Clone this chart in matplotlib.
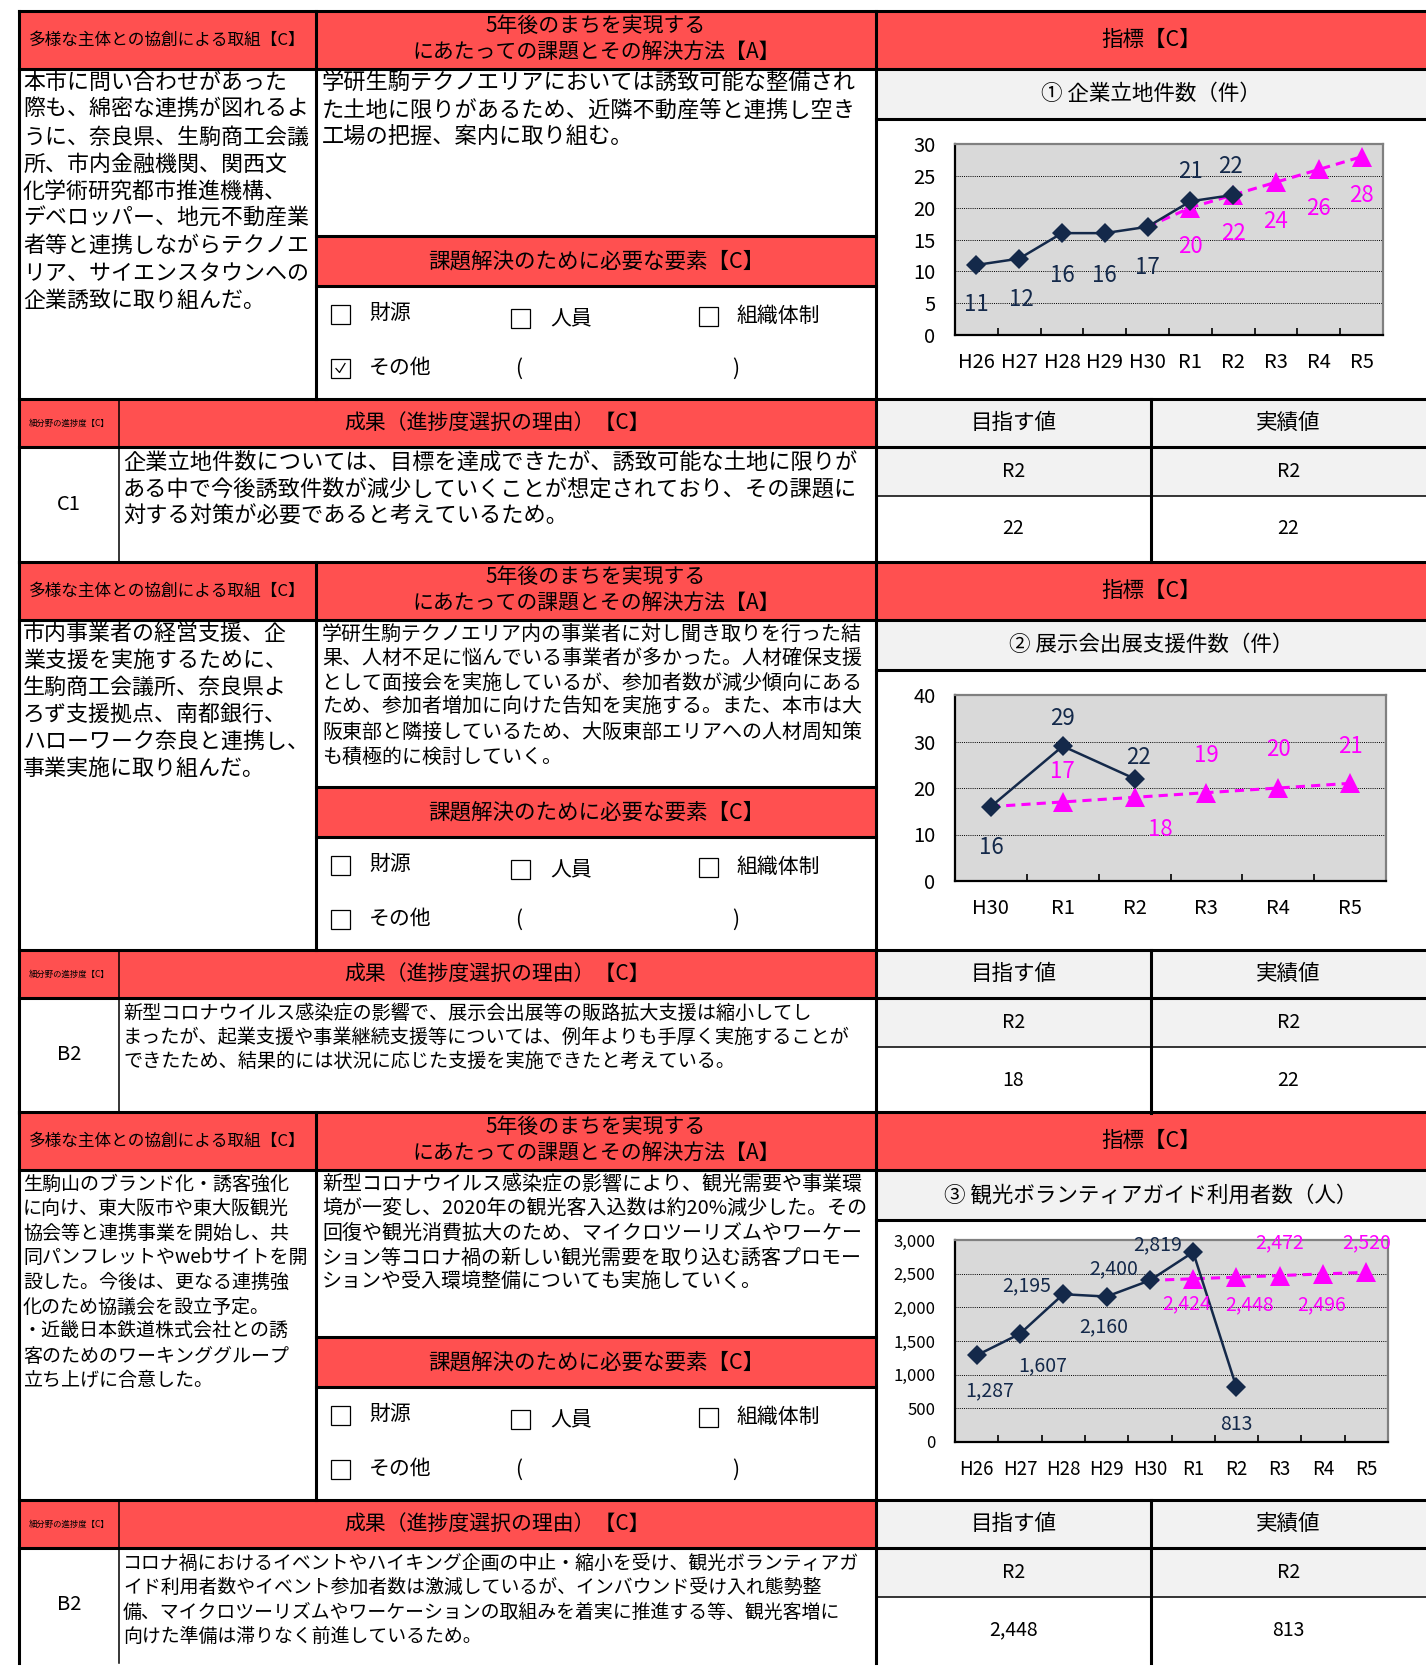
import matplotlib
matplotlib.use('Agg')
import matplotlib.pyplot as plt
from matplotlib.patches import Rectangle
from matplotlib.ticker import FuncFormatter
import numpy as np

plt.rcParams['font.family'] = ['Noto Sans CJK JP', 'DejaVu Sans']

# データ（グラフ）
cats_1 = ['H26', 'H27', 'H28', 'H29', 'H30', 'R1', 'R2', 'R3', 'R4', 'R5']
actual_1 = [11, 12, 16, 16, 17, 21, 22]
target_1 = [17, 20, 22, 24, 26, 28]          # H30〜R5

cats_2 = ['H30', 'R1', 'R2', 'R3', 'R4', 'R5']
actual_2 = [16, 29, 22]
target_2 = [16, 17, 18, 19, 20, 21]          # H30〜R5

cats_3 = ['H26', 'H27', 'H28', 'H29', 'H30', 'R1', 'R2', 'R3', 'R4', 'R5']
actual_3 = [1287, 1607, 2195, 2160, 2400, 2819, 813]
target_3 = [2400, 2424, 2448, 2472, 2496, 2520]  # H30〜R5

chart_titles = ['① 企業立地件数（件）', '② 展示会出展支援件数（件）',
                '③ 観光ボランティアガイド利用者数（人）']

# データ（表）
progress = ['C1', 'B2', 'B2']
goal_year = ['R2', 'R2', 'R2']
goal_vals = ['22', '18', '2,448']
result_year = ['R2', 'R2', 'R2']
result_vals = ['22', '22', '813']
other_checked = [True, False, False]

left_texts = [
    ['本市に問い合わせがあった', '際も、綿密な連携が図れるよ', 'うに、奈良県、生駒商工会議',
     '所、市内金融機関、関西文', '化学術研究都市推進機構、', 'デベロッパー、地元不動産業',
     '者等と連携しながらテクノエ', 'リア、サイエンスタウンへの', '企業誘致に取り組んだ。'],
    ['市内事業者の経営支援、企', '業支援を実施するために、', '生駒商工会議所、奈良県よ',
     'ろず支援拠点、南都銀行、', 'ハローワーク奈良と連携し、', '事業実施に取り組んだ。'],
    ['生駒山のブランド化・誘客強化', 'に向け、東大阪市や東大阪観光', '協会等と連携事業を開始し、共',
     '同パンフレットやwebサイトを開', '設した。今後は、更なる連携強', '化のため協議会を設立予定。',
     '・近畿日本鉄道株式会社との誘', '客のためのワーキンググループ', '立ち上げに合意した。'],
]
mid_texts = [
    ['学研生駒テクノエリアにおいては誘致可能な整備され', 'た土地に限りがあるため、近隣不動産等と連携し空き',
     '工場の把握、案内に取り組む。'],
    ['学研生駒テクノエリア内の事業者に対し聞き取りを行った結', '果、人材不足に悩んでいる事業者が多かった。人材確保支援',
     'として面接会を実施しているが、参加者数が減少傾向にある', 'ため、参加者増加に向けた告知を実施する。また、本市は大',
     '阪東部と隣接しているため、大阪東部エリアへの人材周知策', 'も積極的に検討していく。'],
    ['新型コロナウイルス感染症の影響により、観光需要や事業環', '境が一変し、2020年の観光客入込数は約20%減少した。その',
     '回復や観光消費拡大のため、マイクロツーリズムやワーケー', 'ション等コロナ禍の新しい観光需要を取り込む誘客プロモー',
     'ションや受入環境整備についても実施していく。'],
]
res_texts = [
    ['企業立地件数については、目標を達成できたが、誘致可能な土地に限りが',
     'ある中で今後誘致件数が減少していくことが想定されており、その課題に',
     '対する対策が必要であると考えているため。'],
    ['新型コロナウイルス感染症の影響で、展示会出展等の販路拡大支援は縮小してし',
     'まったが、起業支援や事業継続支援等については、例年よりも手厚く実施することが',
     'できたため、結果的には状況に応じた支援を実施できたと考えている。'],
    ['コロナ禍におけるイベントやハイキング企画の中止・縮小を受け、観光ボランティアガ',
     'イド利用者数やイベント参加者数は激減しているが、インバウンド受け入れ態勢整',
     '備、マイクロツーリズムやワーケーションの取組みを着実に推進する等、観光客増に',
     '向けた準備は滞りなく前進しているため。'],
]

# レイアウト（ピクセル）
W, H = 1426, 1666
RED = '#FF5050'
GRAY = '#F2F2F2'
NAVY = '#14294A'
MAG = '#FF00FF'
XL, XP, XM, XR, XV, XE = 19, 119, 316, 876, 1151, 1426
tops = [11, 562, 1112]
# (左文字サイズ, 左行間, 中文字サイズ, 中行間, 成果文字サイズ, 成果行間)
text_style = [(15.8, 27.2, 16.0, 27.2, 16.0, 27.0),
              (15.8, 27.0, 14.4, 24.6, 13.8, 24.0),
              (13.7, 24.6, 14.4, 24.7, 13.6, 24.5)]

fig = plt.figure(figsize=(W / 100, H / 100), dpi=100)
ax0 = fig.add_axes([0, 0, 1, 1])
ax0.set_xlim(0, W)
ax0.set_ylim(H, 0)
ax0.axis('off')


def fill(x0, y0, x1, y1, color):
    ax0.add_patch(Rectangle((x0, y0), x1 - x0, y1 - y0, facecolor=color, edgecolor='none', zorder=1))


def hline(y, x0, x1, lw=2.2):
    ax0.plot([x0, x1], [y, y], color='black', lw=lw, solid_capstyle='projecting', zorder=3)


def vline(x, y0, y1, lw=2.2):
    ax0.plot([x, x], [y0, y1], color='black', lw=lw, solid_capstyle='projecting', zorder=3)


def checkbox(x, y, checked):
    ax0.add_patch(Rectangle((x, y - 9.5), 19, 19, fill=False, ec='black', lw=0.9, zorder=3))
    if checked:
        ax0.plot([x + 5, x + 8.5, x + 14], [y + 0.5, y + 4.5, y - 4.5], color='black', lw=0.9, zorder=3)


for i, t in enumerate(tops):
    fs_l, dy_l, fs_m, dy_m, fs_r, dy_r = text_style[i]
    bot = min(t + 551, H)
    # 塗り
    fill(XL, t, XE, t + 58, RED)
    fill(XM, t + 225, XR, t + 275, RED)
    fill(XL, t + 388, XR, t + 436, RED)
    fill(XR, t + 58, XE, t + 108, GRAY)
    fill(XR, t + 388, XE, t + 485, GRAY)
    # 罫線
    hline(t, XL, XE)
    hline(t + 58, XL, XE)
    hline(t + 108, XR, XE)
    hline(t + 225, XM, XR)
    hline(t + 275, XM, XR)
    hline(t + 388, XL, XE)
    hline(t + 436, XL, XE)
    hline(t + 485, XR, XE, lw=1.1)
    vline(XL, t, bot)
    vline(XM, t, t + 388)
    vline(XR, t, bot)
    vline(XP, t + 388, bot, lw=1.1)
    vline(XV, t + 388, bot)

    # 見出し
    ax0.text((XL + XM) / 2, t + 29, '多様な主体との協創による取組【C】', ha='center', va='center', fontsize=12)
    ax0.text((XM + XR) / 2, t + 15, '5年後のまちを実現する', ha='center', va='center', fontsize=15)
    ax0.text((XM + XR) / 2, t + 42, 'にあたっての課題とその解決方法【A】', ha='center', va='center', fontsize=15)
    ax0.text((XR + XE) / 2, t + 29, '指標【C】', ha='center', va='center', fontsize=15.5)
    ax0.text((XR + XE) / 2, t + 83, chart_titles[i], ha='center', va='center', fontsize=15.5)
    ax0.text((XM + XR) / 2, t + 250, '課題解決のために必要な要素【C】', ha='center', va='center', fontsize=15.5)
    ax0.text((XP + XR) / 2, t + 412, '成果（進捗度選択の理由）【C】', ha='center', va='center', fontsize=15)
    ax0.text((XL + XP) / 2, t + 412, '細分野の進捗度【C】', ha='center', va='center', fontsize=6)
    ax0.text((XR + XV) / 2, t + 412, '目指す値', ha='center', va='center', fontsize=15.5)
    ax0.text((XV + XE) / 2, t + 412, '実績値', ha='center', va='center', fontsize=15.5)
    ax0.text((XR + XV) / 2, t + 460, goal_year[i], ha='center', va='center', fontsize=14)
    ax0.text((XV + XE) / 2, t + 460, result_year[i], ha='center', va='center', fontsize=14)
    ax0.text((XR + XV) / 2, t + 518, goal_vals[i], ha='center', va='center', fontsize=14)
    ax0.text((XV + XE) / 2, t + 518, result_vals[i], ha='center', va='center', fontsize=14)
    ax0.text((XL + XP) / 2, t + 493, progress[i], ha='center', va='center', fontsize=14.5)

    # 本文
    for k, line in enumerate(left_texts[i]):
        ax0.text(23, t + 72 + k * dy_l, line, ha='left', va='center', fontsize=fs_l)
    for k, line in enumerate(mid_texts[i]):
        ax0.text(322, t + 72 + k * dy_m, line, ha='left', va='center', fontsize=fs_m)
    for k, line in enumerate(res_texts[i]):
        ax0.text(123, t + 451 + k * dy_r, line, ha='left', va='center', fontsize=fs_r)

    # チェック欄
    checkbox(331, t + 303, False)
    ax0.text(369, t + 302, '財源', ha='left', va='center', fontsize=15)
    checkbox(511, t + 307, False)
    ax0.text(550, t + 307, '人員', ha='left', va='center', fontsize=15)
    checkbox(699, t + 305, False)
    ax0.text(737, t + 305, '組織体制', ha='left', va='center', fontsize=15)
    checkbox(331, t + 357, other_checked[i])
    ax0.text(369, t + 357, 'その他', ha='left', va='center', fontsize=15)
    ax0.text(515, t + 358, '(', ha='left', va='center', fontsize=15)
    ax0.text(732, t + 358, ')', ha='left', va='center', fontsize=15)


def draw_chart(box, cats, actual, target, ymax, ystep, act_off, tgt_off,
               xtick_fs, ytick_fs, lab_fs, comma=False):
    x0, y0, x1, y1 = box
    ax = fig.add_axes([x0 / W, 1 - y1 / H, (x1 - x0) / W, (y1 - y0) / H])
    ax.set_facecolor('#D9D9D9')
    n = len(cats)
    xs = np.arange(n)
    tx = xs[n - len(target):]
    ax.plot(tx, target, color=MAG, lw=2.2, ls=(0, (3, 2)), zorder=3)
    ax.plot(tx[1:], target[1:], ls='none', marker='^', ms=14, color=MAG, mew=0, zorder=3)
    ax.plot(xs[:len(actual)], actual, color=NAVY, lw=1.8, marker='D', ms=10, mew=0, zorder=4)

    fmt = (lambda v: f'{v:,}') if comma else (lambda v: str(v))
    px = 0.72  # px -> pt
    for j, v in enumerate(actual):
        dx, dy = act_off[j]
        ax.annotate(fmt(v), (xs[j], v), xytext=(dx * px, dy * px), textcoords='offset points',
                    ha='center', va='center', fontsize=lab_fs, color=NAVY, zorder=5)
    for j, v in enumerate(target[1:]):
        dx, dy = tgt_off[j]
        ax.annotate(fmt(v), (tx[j + 1], v), xytext=(dx * px, dy * px), textcoords='offset points',
                    ha='center', va='center', fontsize=lab_fs, color=MAG, zorder=5,
                    annotation_clip=False)

    ax.set_xlim(-0.5, n - 0.5)
    ax.set_ylim(0, ymax)
    ax.set_yticks(np.arange(0, ymax + 1, ystep))
    if comma:
        ax.yaxis.set_major_formatter(FuncFormatter(lambda v, p: f'{int(v):,}'))
    ax.set_xticks(xs)
    ax.set_xticklabels(cats)
    ax.set_xticks(np.arange(0.5, n - 0.5, 1), minor=True)
    ax.tick_params(axis='x', which='major', length=0, pad=12, labelsize=xtick_fs)
    ax.tick_params(axis='x', which='minor', direction='in', length=5, width=1.2, color='black')
    ax.tick_params(axis='y', length=0, pad=14, labelsize=ytick_fs)
    ax.yaxis.grid(True, ls=(0, (1, 1.2)), color='black', lw=0.7)
    ax.set_axisbelow(True)
    for s in ['left', 'bottom']:
        ax.spines[s].set_color('black')
        ax.spines[s].set_linewidth(1.6)
    for s in ['top', 'right']:
        ax.spines[s].set_color('#808080')
        ax.spines[s].set_linewidth(1.6)
    return ax


draw_chart((955, 144, 1383, 335), cats_1, actual_1, target_1, 30, 5,
           [(0, -40), (2, -41), (0, -42), (0, -42), (0, -41), (0, 30), (-3, 28)],
           [(0, -39), (0, -39), (0, -39), (0, -39), (0, -39)], 14.5, 14.5, 16)
draw_chart((955, 695, 1386, 881), cats_2, actual_2, target_2, 40, 10,
           [(0, -41), (0, 28), (4, 21)],
           [(0, 30), (26, -32), (0, 37), (0, 38), (0, 37)], 14.5, 14.5, 16)
draw_chart((955, 1240, 1388, 1442), cats_3, actual_3, target_3, 3000, 500,
           [(13, -35), (23, -32), (-37, 8), (-3, -30), (-36, 12), (-36, 7), (0, -37)],
           [(-7, -25), (13, -28), (0, 33), (-1, -31), (0, 30)], 13.5, 12, 14, comma=True)

fig.savefig('out.png', dpi=100)
